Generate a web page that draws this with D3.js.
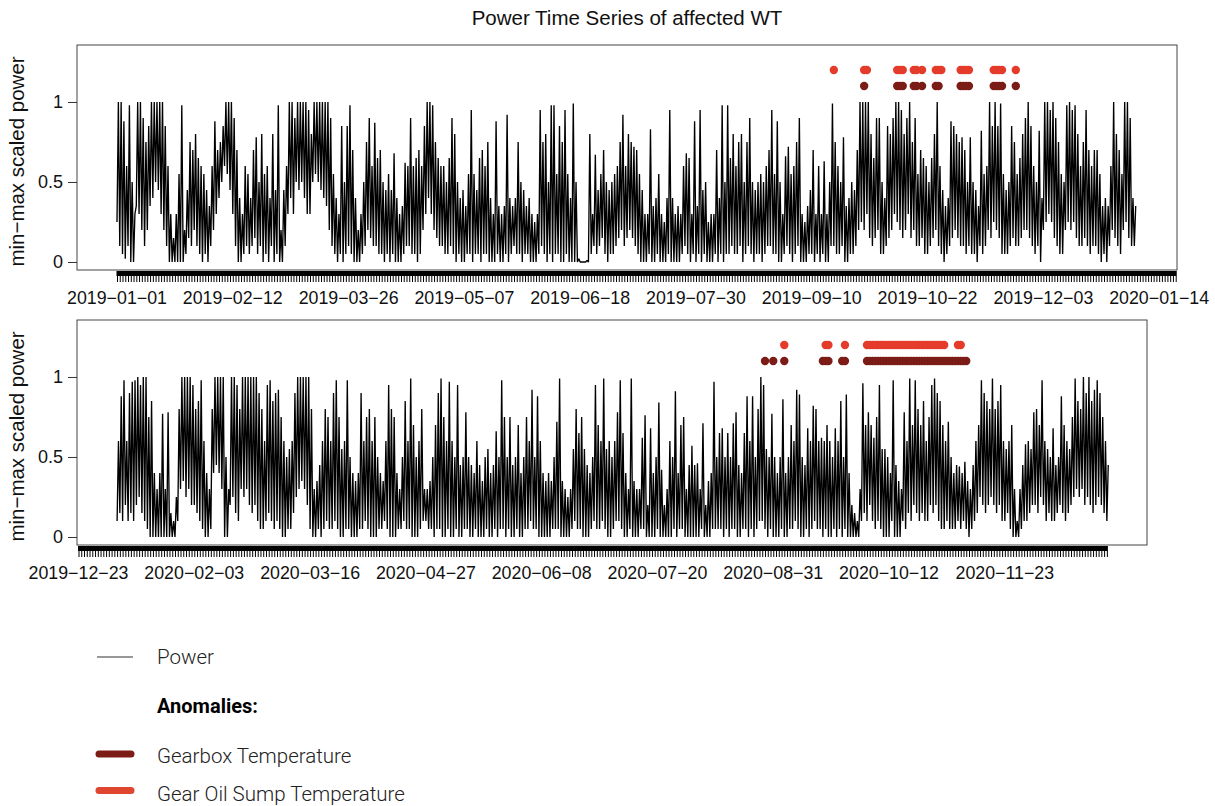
<!DOCTYPE html>
<html>
<head>
<meta charset="utf-8">
<script src="https://cdn.jsdelivr.net/npm/d3@7"></script>
<style>
  html, body { margin: 0; padding: 0; background: #ffffff; }
  svg { display: block; }
</style>
</head>
<body>
<svg id="chart" width="1215" height="806"></svg>
<script>
// ---------------- DATA ----------------
// Panel 1 (2019): daily high / low of min-max scaled power, first day 2019-01-01
const topStart = "2019-01-01";
const topHigh = [
  1,1,.88,.6,.98,.5,.3,1,1,.9,
  .75,.85,1,1,1,1,1,.85,.6,.3,
  .15,.3,.55,.98,.2,.45,.75,.7,.8,.65,
  .6,.55,.45,.35,.6,.88,.7,.75,.85,1,
  1,1,.9,.7,.4,.3,.6,.55,.4,.7,
  .78,.5,.8,.55,.6,.4,.8,.45,.98,.2,
  .45,.6,1,1,.9,1,1,1,1,.95,
  .8,1,1,1,1,1,1,.9,.55,.4,
  .3,.85,.5,.85,.98,.7,.4,.2,.3,.5,
  .75,.9,.6,.87,.65,.7,.5,.45,.55,.45,
  .68,.4,.3,.35,.62,.6,.9,.6,.65,.7,
  .6,.85,1,1,.98,.75,.65,.6,.6,.5,
  .65,.9,.8,.5,.4,.45,.35,.55,.95,.55,
  .45,.65,.7,.6,.75,.4,.3,.88,.35,.3,
  .35,.92,.4,.35,.4,.75,.5,.45,.35,.4,
  .3,.25,.3,.95,.75,.8,.5,.98,.98,.55,
  .85,.75,.95,.55,.4,.99,.5,.02,0,0,
  .01,.8,.3,.67,.45,.55,.7,.5,.45,.5,
  .55,.6,.75,.92,.6,.8,.75,.72,.7,.55,
  .45,.3,.3,.83,.35,.4,.55,.3,.25,.4,
  .95,.4,.3,.35,.3,.6,.68,.65,.3,.88,
  .35,.95,.45,.5,.25,.3,.3,.7,.4,.98,
  .5,.98,.65,.8,.6,.75,.8,.5,.75,.9,
  .5,.45,.5,.55,.5,.6,.7,.95,.55,.88,
  .5,.3,.66,.72,.55,.6,.75,.9,.3,.25,
  .35,.45,.7,.3,.6,.3,.63,.3,.5,.99,
  .75,.6,.5,.78,.35,.4,.5,.45,.7,1,
  1,1,1,.8,.65,.9,.9,.5,.4,.85,
  .8,.9,1,1,.95,.8,.9,1,.75,.9,
  .55,.7,.65,.6,.5,.65,.8,1,.6,.45,
  .35,.4,.88,.85,.8,.75,.78,.7,.5,.78,
  .5,.45,.35,.82,.55,.6,1,.85,1,.85,
  .99,.55,.45,.5,.85,.75,.55,.65,.8,.9,
  1,.85,.6,.5,.82,.4,1,1,.95,1,
  .9,.75,.55,.5,.98,1,.95,.98,.8,.6,
  .75,.95,.7,.6,.7,.7,.55,.35,.4,.35,
  .6,1,.8,.7,.55,1,1,.9,.4,.35
];
const topLow = [
  .25,.1,.05,.02,.1,0,0,.35,.3,.2,
  .1,.2,.35,.4,.5,.45,.3,.2,.1,0,
  0,0,0,0,0,.05,.15,.1,.2,.1,
  .05,0,.05,0,.1,.2,.3,.4,.5,.6,
  .55,.45,.3,.1,0,0,.05,.1,.05,.1,
  .15,.05,.1,0,.05,0,.1,0,.05,0,
  0,.1,.3,.4,.3,.5,.45,.5,.4,.3,
  .3,.5,.55,.5,.45,.4,.35,.2,.1,.05,
  0,.05,0,.05,.1,.05,0,0,0,.05,
  .1,.2,.15,.1,.1,.05,.05,0,.05,0,
  .05,0,0,0,.05,.1,.1,.05,.05,0,
  .05,.2,.3,.4,.3,.2,.15,.1,.1,.05,
  .05,.1,.05,0,.05,0,0,.05,.05,0,
  .05,.05,0,.05,.05,0,0,0,.05,0,
  0,.05,0,.05,.1,.05,.05,0,.05,.05,
  0,0,0,.05,.1,.05,0,.05,0,.05,
  .05,0,0,.05,0,0,0,0,0,0,
  0,0,.05,.1,.05,.1,.15,.05,0,.05,
  .05,.1,.15,.2,.1,.15,.2,.15,.1,.05,
  0,0,0,.05,0,0,.05,0,0,0,
  .05,0,0,0,0,.05,.1,.05,0,.05,
  0,.05,0,.05,0,0,0,.05,0,.05,
  0,.05,.05,.1,.05,.05,.1,0,.05,.1,
  .05,0,.05,.05,0,.05,.1,.1,.05,.05,
  0,0,.05,.1,.05,0,.05,.1,0,0,
  0,.05,.05,0,.05,0,.05,0,0,.1,
  .1,.05,.05,.1,0,0,.05,.05,.1,.2,
  .25,.2,.3,.15,.1,.15,.2,.05,.05,.1,
  .15,.2,.3,.25,.2,.15,.2,.3,.15,.2,
  .1,.1,.15,.05,.05,.1,.15,.2,.1,.05,
  0,.05,.1,.15,.2,.15,.1,.1,.05,.1,
  .05,.05,0,.1,.05,.1,.2,.15,.25,.2,
  .15,.05,.05,.05,.1,.15,.1,.1,.15,.2,
  .2,.15,.1,.05,.1,0,.2,.25,.3,.25,
  .15,.1,.05,.05,.2,.25,.2,.25,.15,.1,
  .1,.15,.1,.05,.1,.1,.05,0,.05,0,
  .1,.2,.15,.1,.05,.2,.25,.15,.1,.1
];
// Panel 2 (2020): daily high / low, first day 2020-01-06
const botStart = "2020-01-06";
const botHigh = [
  .6,.88,.98,.6,.9,.97,.98,1,.95,1,
  1,.75,.85,.4,.3,.4,.77,.3,.78,.15,
  .1,.25,.8,1,1,1,1,.95,.8,.85,
  .98,.6,.4,.3,.8,1,1,1,1,.5,
  .3,1,1,.95,.8,1,1,1,1,1,
  1,.9,.8,.6,.95,.98,.85,.9,.92,.75,
  .6,.5,.55,.6,.9,1,1,1,1,1,
  .8,.3,.35,.45,.6,.8,.75,.6,.9,.98,
  .75,.55,.6,.98,.5,.4,.35,.4,.9,.6,
  .75,.8,.6,.75,.5,.4,.35,.6,.95,.8,
  .75,.4,.3,.5,.85,.6,.99,.7,.5,.6,
  .8,.3,.3,.35,.5,.7,.9,.99,.75,.6,
  .97,.6,.5,.95,.45,.5,.78,.5,.45,.4,
  .6,.45,.35,.5,.55,.4,.45,.66,.5,.98,
  .75,.5,.75,.45,.5,.7,.4,.5,.75,.6,
  .92,.5,.88,.6,.4,.35,.4,.35,.5,.72,
  .99,.35,.3,.25,.3,.55,.8,.65,.75,.55,
  .45,.4,.5,.95,.7,.6,.99,.55,.6,.5,
  .6,.78,.98,.65,.4,.3,.99,.35,.3,.3,
  .62,.76,.2,.68,.4,.5,.84,.42,.2,.3,
  .6,.5,.91,.4,.7,.75,.3,.45,.57,.45,
  .46,.3,.71,.2,.35,.4,.97,.5,.65,.68,
  .5,.65,.5,.71,.78,.45,.4,.65,.88,.6,
  .88,.5,.8,1,.95,.55,.5,.77,.5,.4,
  .5,.86,.4,.5,.7,.6,.92,.89,.5,.45,
  .68,.6,.82,.8,.6,.62,.6,.7,.6,.5,
  .68,.6,.85,.5,.89,.4,.2,.15,.1,.3,
  .96,.7,.78,.7,.62,.75,.95,.55,.55,.5,
  .4,.98,.45,.35,.3,.78,.6,.99,.7,.98,
  .8,.7,.85,.6,.75,.95,.99,.9,.85,.7,
  .6,.72,.5,.4,.45,.44,.4,.47,.35,.3,
  .45,.6,.7,.98,.9,.85,.8,.99,.8,.85,
  .95,.6,.55,.6,.7,.3,.1,.3,.45,.58,
  .6,.55,.78,.8,.7,.98,.6,.55,.5,.68,
  .45,.5,.88,.7,.6,.55,.75,.99,.85,.8,
  1,.9,1,.85,.92,.98,.9,.75,.6,.45
];
const botLow = [
  .1,.15,.1,.2,.1,.15,.1,.2,.25,.15,
  .1,.05,0,0,0,0,0,0,0,0,
  0,0,.1,.3,.35,.25,.3,.2,.2,.15,
  .1,.05,0,0,.05,.4,.45,.4,.3,0,
  0,.2,.25,.15,.1,.3,.25,.3,.2,.15,
  .2,.1,.05,.05,.1,.15,.1,.05,.1,.05,
  0,0,.05,.05,.15,.25,.3,.35,.3,.2,
  .05,0,0,.05,0,.05,.1,.05,.05,.1,
  .05,0,0,.05,.05,0,0,0,.05,.05,
  .1,.05,0,0,0,.05,.05,.1,.05,0,
  0,0,.05,.05,.1,.05,.05,0,0,0,
  .05,.1,.1,.05,.05,0,.05,.05,0,0,
  .05,0,0,.05,0,0,.05,.05,0,0,
  .05,0,0,0,.05,0,0,.05,0,.05,
  .05,0,.05,0,0,.05,0,0,.05,.05,
  .1,.05,.05,0,0,0,0,0,.05,.05,
  .05,0,0,0,0,.05,.1,.05,.05,0,
  0,0,.05,.1,.05,.05,.1,.05,0,0,
  .05,.1,.1,.05,0,0,.05,0,0,0,
  .05,.05,0,0,0,0,.05,0,0,0,
  0,0,.05,0,.05,.05,0,0,0,0,
  0,0,.05,0,0,0,.05,.05,.05,.05,
  0,.05,0,.05,.05,0,0,.05,.05,0,
  .05,0,.05,.1,.1,.05,0,.05,0,0,
  0,.05,0,0,.05,.05,.1,.05,0,0,
  .05,0,.05,.1,.05,.05,0,.05,0,0,
  .05,0,.05,0,.05,0,0,0,0,0,
  .1,.15,.1,.2,.1,.05,.1,.05,0,0,
  0,.1,0,0,0,.1,.05,.15,.1,.2,
  .15,.1,.15,.1,.1,.2,.15,.2,.1,.05,
  .05,.1,.05,.05,.05,.1,.05,.1,.05,0,
  .05,.1,.15,.25,.2,.15,.2,.25,.2,.15,
  .2,.1,.1,.15,.05,0,0,0,.05,.1,
  .1,.15,.2,.2,.15,.25,.2,.1,.15,.1,
  .1,.15,.2,.15,.1,.15,.2,.25,.3,.25,
  .3,.2,.25,.2,.15,.2,.25,.2,.15,.1
];

// Anomaly days
const topGearbox = ["2019-09-29","2019-10-11","2019-10-12","2019-10-13","2019-10-17","2019-10-18","2019-10-20",
  "2019-10-25","2019-10-26","2019-11-03","2019-11-04","2019-11-05","2019-11-06",
  "2019-11-15","2019-11-16","2019-11-17","2019-11-18","2019-11-23"];
const topOilSump = ["2019-09-18","2019-09-29","2019-09-30","2019-10-11","2019-10-12","2019-10-13","2019-10-17","2019-10-18","2019-10-20",
  "2019-10-25","2019-10-26","2019-10-27","2019-11-03","2019-11-04","2019-11-05","2019-11-06",
  "2019-11-15","2019-11-16","2019-11-17","2019-11-18","2019-11-23"];
const botGearbox = ["2020-08-28","2020-08-31","2020-09-04","2020-09-18","2020-09-19","2020-09-20","2020-09-25","2020-09-26",
  "2020-10-04","2020-10-05","2020-10-06","2020-10-07","2020-10-08","2020-10-09","2020-10-10","2020-10-11","2020-10-12",
  "2020-10-13","2020-10-14","2020-10-15","2020-10-16","2020-10-17","2020-10-18","2020-10-19","2020-10-20","2020-10-21",
  "2020-10-22","2020-10-23","2020-10-24","2020-10-25","2020-10-26","2020-10-27","2020-10-28","2020-10-29","2020-10-30",
  "2020-10-31","2020-11-01","2020-11-02","2020-11-03","2020-11-04","2020-11-05","2020-11-06","2020-11-07","2020-11-08","2020-11-09"];
const botOilSump = ["2020-09-04","2020-09-19","2020-09-20","2020-09-26",
  "2020-10-04","2020-10-05","2020-10-06","2020-10-07","2020-10-08","2020-10-09","2020-10-10","2020-10-11","2020-10-12",
  "2020-10-13","2020-10-14","2020-10-15","2020-10-16","2020-10-17","2020-10-18","2020-10-19","2020-10-20","2020-10-21",
  "2020-10-22","2020-10-23","2020-10-24","2020-10-25","2020-10-26","2020-10-27","2020-10-28","2020-10-29","2020-10-30",
  "2020-10-31","2020-11-01","2020-11-06","2020-11-07"];

// Axis ticks (daily) and labels
const topTickRange = ["2019-01-01", "2020-01-20"];
const topTickLabels = ["2019-01-01","2019-02-12","2019-03-26","2019-05-07","2019-06-18","2019-07-30","2019-09-10","2019-10-22","2019-12-03","2020-01-14"];
const botTickRange = ["2019-12-23", "2020-12-30"];
const botTickLabels = ["2019-12-23","2020-02-03","2020-03-16","2020-04-27","2020-06-08","2020-07-20","2020-08-31","2020-10-12","2020-11-23"];
const yTicks = [0, 0.5, 1];
const levelGearbox = 1.1, levelOilSump = 1.2;

const titleText = "Power Time Series of affected WT";
const yLabelText = "min\u2212max scaled power";
const legendItems = ["Power", "Anomalies:", "Gearbox Temperature", "Gear Oil Sump Temperature"];

// ---------------- STYLE / LAYOUT ----------------
const COL_GEARBOX = "#7b1c16";
const COL_OIL = "#e43b2b";
const pxPerDay = 2.757;
const parse = d3.utcParse("%Y-%m-%d");
const addDays = (d, n) => new Date(d.getTime() + n * 86400000);

const svg = d3.select("#chart");
const FONT = "'Liberation Sans', Arial, Helvetica, sans-serif";

svg.append("text")
  .attr("x", 627).attr("y", 25)
  .attr("text-anchor", "middle")
  .attr("font-family", FONT).attr("font-size", 20.5)
  .attr("fill", "#111")
  .text(titleText);

function panel(cfg) {
  const {x0, x1, y0, y1, anchorDate, anchorX, start, high, low, tickRange, tickLabels, gearbox, oil} = cfg;
  const a = parse(anchorDate);
  const x = d3.scaleUtc()
    .domain([addDays(a, (x0 - anchorX) / pxPerDay), addDays(a, (x1 - anchorX) / pxPerDay)])
    .range([x0, x1]);
  const y = d3.scaleLinear().domain([-0.05, 1.356]).range([y1, y0]);

  const g = svg.append("g");

  // power line: low then high each day
  const s = parse(start);
  const n = Math.min(high.length, low.length);
  const pts = [];
  for (let i = 0; i < n; i++) {
    pts.push([addDays(s, i), low[i]]);
    pts.push([addDays(s, i + 0.5), high[i]]);
  }
  g.append("path")
    .datum(pts)
    .attr("fill", "none")
    .attr("stroke", "#000")
    .attr("stroke-width", 1.35)
    .attr("stroke-linejoin", "bevel")
    .attr("d", d3.line().x(d => x(d[0])).y(d => y(d[1])));

  // anomaly dots
  g.selectAll(null).data(gearbox).enter().append("circle")
    .attr("cx", d => x(parse(d))).attr("cy", y(levelGearbox)).attr("r", 4.2)
    .attr("fill", COL_GEARBOX);
  g.selectAll(null).data(oil).enter().append("circle")
    .attr("cx", d => x(parse(d))).attr("cy", y(levelOilSump)).attr("r", 4.2)
    .attr("fill", COL_OIL);

  // box
  g.append("rect")
    .attr("x", x0).attr("y", y0).attr("width", x1 - x0).attr("height", y1 - y0)
    .attr("fill", "none").attr("stroke", "#444").attr("stroke-width", 1);

  // y axis
  const yAxis = d3.axisLeft(y).tickValues(yTicks).tickSize(9).tickPadding(5)
    .tickFormat(d => d === 0.5 ? "0.5" : String(d));
  const ya = g.append("g").attr("transform", `translate(${x0},0)`).call(yAxis);
  ya.select(".domain").remove();
  ya.selectAll("line").attr("stroke", "#333");
  ya.selectAll("text").attr("font-family", FONT).attr("font-size", 18).attr("fill", "#111");

  svg.append("text")
    .attr("transform", `translate(24,${(y0 + y1) / 2 + 4}) rotate(-90)`)
    .attr("text-anchor", "middle")
    .attr("font-family", FONT).attr("font-size", 20.5).attr("fill", "#111")
    .text(yLabelText);

  // x axis: daily ticks + heavy axis line
  const t0 = parse(tickRange[0]), t1 = parse(tickRange[1]);
  const days = d3.utcDay.range(t0, addDays(t1, 1));
  const xAxis = d3.axisBottom(x).tickValues(days).tickSize(11).tickSizeOuter(0).tickFormat("");
  const xa = g.append("g").attr("transform", `translate(0,${y1 + 1})`).call(xAxis);
  xa.select(".domain").remove();
  xa.selectAll("line").attr("stroke", "#000").attr("stroke-width", 1);
  g.append("line")
    .attr("x1", x(t0) - 0.5).attr("x2", x(t1) + 0.5)
    .attr("y1", y1 + 3.5).attr("y2", y1 + 3.5)
    .attr("stroke", "#000").attr("stroke-width", 5);

  g.selectAll(null).data(tickLabels).enter().append("text")
    .attr("x", d => x(parse(d))).attr("y", y1 + 34)
    .attr("text-anchor", "middle")
    .attr("font-family", FONT).attr("font-size", 17.8).attr("fill", "#111")
    .text(d => d.replace(/-/g, "\u2212"));
}

panel({x0: 77, x1: 1177, y0: 45, y1: 270, anchorDate: "2019-01-01", anchorX: 117,
  start: topStart, high: topHigh, low: topLow, tickRange: topTickRange, tickLabels: topTickLabels,
  gearbox: topGearbox, oil: topOilSump});
panel({x0: 77, x1: 1147, y0: 320, y1: 545, anchorDate: "2019-12-23", anchorX: 78.5,
  start: botStart, high: botHigh, low: botLow, tickRange: botTickRange, tickLabels: botTickLabels,
  gearbox: botGearbox, oil: botOilSump});

// ---------------- LEGEND ----------------
const LFONT = "Roboto, 'Noto Sans', sans-serif";
const lg = svg.append("g");
lg.append("line").attr("x1", 97).attr("x2", 133).attr("y1", 657).attr("y2", 657)
  .attr("stroke", "#333").attr("stroke-width", 1.2);
lg.append("text").attr("x", 157).attr("y", 664).attr("font-family", LFONT).attr("font-size", 20.5)
  .attr("font-weight", 300).attr("fill", "#222").text(legendItems[0]);
lg.append("text").attr("x", 157).attr("y", 713).attr("font-family", LFONT).attr("font-size", 20)
  .attr("font-weight", 700).attr("fill", "#000").text(legendItems[1]);
lg.append("line").attr("x1", 99).attr("x2", 131).attr("y1", 754).attr("y2", 754)
  .attr("stroke", COL_GEARBOX).attr("stroke-width", 7).attr("stroke-linecap", "round");
lg.append("text").attr("x", 157).attr("y", 763).attr("font-family", LFONT).attr("font-size", 20.5)
  .attr("font-weight", 300).attr("fill", "#222").text(legendItems[2]);
lg.append("line").attr("x1", 99).attr("x2", 131).attr("y1", 790.5).attr("y2", 790.5)
  .attr("stroke", "#e0452f").attr("stroke-width", 7).attr("stroke-linecap", "round");
lg.append("text").attr("x", 157).attr("y", 801).attr("font-family", LFONT).attr("font-size", 20.5)
  .attr("font-weight", 300).attr("fill", "#222").text(legendItems[3]);
</script>
</body>
</html>
